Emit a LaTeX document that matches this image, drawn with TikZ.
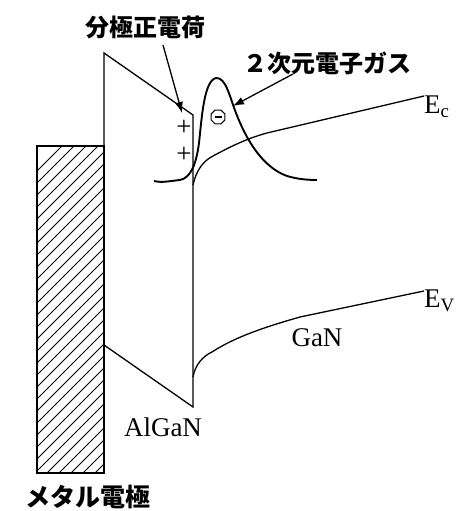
\documentclass[tikz,border=0pt]{standalone}
\usepackage{fontspec}
\setmainfont{Liberation Serif}
\newfontfamily\jp{Noto Sans CJK JP}
\usetikzlibrary{arrows.meta,shapes.geometric}
\begin{document}
\begin{tikzpicture}[x=1pt,y=1pt,
  band/.style={line width=1.3pt},
  gas/.style={line width=1.9pt},
  ptr/.style={line width=1.3pt,-{Latex[length=11pt,width=8pt]}},
  jlabel/.style={font=\jp\bfseries\fontsize{24}{24}\selectfont,inner sep=0pt},
  rlabel/.style={font=\fontsize{27}{27}\selectfont,inner sep=0pt},
  plus/.style={font=\fontsize{27}{27}\selectfont,inner sep=0pt}]
\useasboundingbox (0,0) rectangle (456,511);
% metal electrode
\begin{scope}
\clip (37,38) rectangle (104,365);
\foreach \k in {-80,-68,...,340} {\draw[line width=1pt] (37,\k) -- ++(80,80);}
\end{scope}
\draw[band] (37,38) rectangle (104,365);
% AlGaN barrier
\draw[band] (104,365) -- (104,458) -- (193,396) -- (193,104) -- (104,166);
% conduction band in GaN
\coordinate (ecend) at (424,415);
\node[rlabel,anchor=west] (Ec) at (424,404) {E$_\mathrm{c}$};
\draw[band] (193,326) .. controls (196,340) and (203,350) .. (213,355)
  .. controls (228,363) and (245,372) .. (267,378) -- (ecend);
% valence band in GaN
\coordinate (evend) at (424,220);
\node[rlabel,anchor=west] (Ev) at (424,210) {E$_\mathrm{V}$};
\draw[band] (193,134) .. controls (195,146) and (203,155) .. (212,159)
  .. controls (235,174) and (265,184) .. (300,194) -- (evend);
% electron gas distribution
\draw[gas] (154,330) .. controls (162,328) and (170,330) .. (180,331)
  .. controls (190,333) and (196,345) .. (199,368)
  .. controls (202,395) and (204,430) .. (216,433)
  .. controls (226,434) and (230,413) .. (236,398)
  .. controls (246,372) and (262,344) .. (287,335)
  .. controls (297,332) and (307,331) .. (317,331);
% charges
\node[plus] (p1) at (184,383) {+};
\node[plus] (p2) at (184,356) {+};
\node[draw,line width=1pt,regular polygon,regular polygon sides=8,minimum size=15pt,inner sep=0pt] (e) at (218,394) {};
\draw[line width=1.2pt] (214.5,394) -- (221.5,394);
% labels
\node[jlabel] (pol) at (145,484) {分極正電荷};
\node[jlabel] (gas2d) at (327,448) {２次元電子ガス};
\node[jlabel,font=\jp\bfseries\fontsize{25}{25}\selectfont] (metal) at (88,14) {メタル電極};
\node[rlabel] (gan) at (317,173) {GaN};
\node[rlabel] (algan) at (163,84) {AlGaN};
% pointers
\coordinate (a1s) at (163,466);
\coordinate (a1e) at (182,398);
\coordinate (a2s) at (293,437);
\coordinate (a2e) at (233,405);
\draw[ptr] (a1s) -- (a1e);
\draw[ptr] (a2s) -- (a2e);
\end{tikzpicture}
\end{document}
